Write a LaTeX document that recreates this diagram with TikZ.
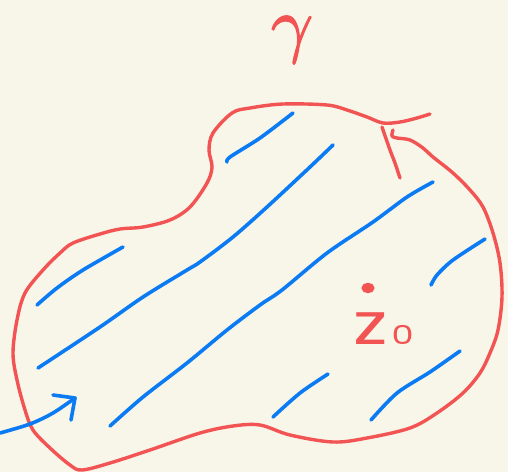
\documentclass[tikz,border=0pt]{standalone}
\usepackage{fontspec}
\usepackage{graphicx}
\newfontfamily\labelfont{Poppins}
\newfontfamily\gammafont[FakeBold=1.6]{latinmodern-math.otf}
\definecolor{paper}{HTML}{F8F5E9}
\definecolor{inkred}{HTML}{F25353}
\definecolor{inkblue}{HTML}{0A7BF2}
\tikzset{
  redink/.style={draw=inkred, line width=3.4pt, line cap=round, line join=round},
  blueink/.style={draw=inkblue, line width=3.6pt, line cap=round, line join=round},
}
\begin{document}
\begin{tikzpicture}[x=1pt,y=-1pt]
\fill[paper] (0,0) rectangle (508,472);
\useasboundingbox (0,0) rectangle (508,472);
% boundary curve
\draw[redink] plot[smooth, tension=0.55] coordinates {
 (393,130) (392,136) (397,138) (410,140) (423,148) (433,157) (453,173) (470,190)
 (483,207) (493,233) (500,263) (502,297) (498,330) (490,353) (480,373) (463,393)
 (437,413) (410,428) (367,438) (333,442) (290,435) (260,425) (233,426) (200,433)
 (150,450) (110,463) (82,470) (70,465) (50,448) (33,430) (25,410) (17,380) (13,353)
 (17,320) (25,293) (43,270) (60,253) (73,243) (100,234) (120,229) (143,227)
 (170,220) (190,207) (207,183) (212,167) (209,150) (213,133) (232,113) (250,108)
 (283,104) (327,105) (347,110) (367,117) (383,123) (400,122) (417,118) (430,114)};
\draw[redink] plot[smooth, tension=0.5] coordinates {(382,127) (390,150) (395,163) (400,178)};
% hatching
\draw[blueink] plot[smooth] coordinates {(227,162) (230,157) (260,138) (293,113)};
\draw[blueink] plot[smooth] coordinates {(333,145) (310,167) (267,207) (233,237) (200,262) (187,270) (143,297) (100,327) (38,368)};
\draw[blueink] plot[smooth] coordinates {(433,182) (407,197) (373,222) (327,253) (282,290) (260,305) (227,330) (187,363) (143,397) (110,426)};
\draw[blueink] plot[smooth] coordinates {(123,247) (83,270) (57,288) (37,305)};
\draw[blueink] plot[smooth] coordinates {(485,239) (453,260) (437,275) (431,285)};
\draw[blueink] plot[smooth] coordinates {(328,374) (300,393) (273,417)};
\draw[blueink] plot[smooth] coordinates {(460,351) (430,372) (397,393) (371,420)};
% arrow
\coordinate (tip) at (75,398);
\draw[blueink] plot[smooth] coordinates {(0,433) (30,424) (53,413) (75,398)};
\draw[blueink] (53,395) -- (tip) -- (71,420);
% point z0
\filldraw[inkred, line width=2pt] (368,288) ellipse (5.5pt and 4.2pt);
\node[inkred, anchor=base west, inner sep=0pt] (zlabel) at (353,344)
  {\labelfont\fontsize{58}{58}\selectfont\scalebox{1.3}[1]{z}\hspace{4pt}\fontsize{26}{26}\selectfont\scalebox{1.35}[1]{0}};
% gamma
\node[inkred, inner sep=0pt] (gamma) at (290,40) {\gammafont\fontsize{74}{74}\selectfont 𝛾};
\end{tikzpicture}
\end{document}
